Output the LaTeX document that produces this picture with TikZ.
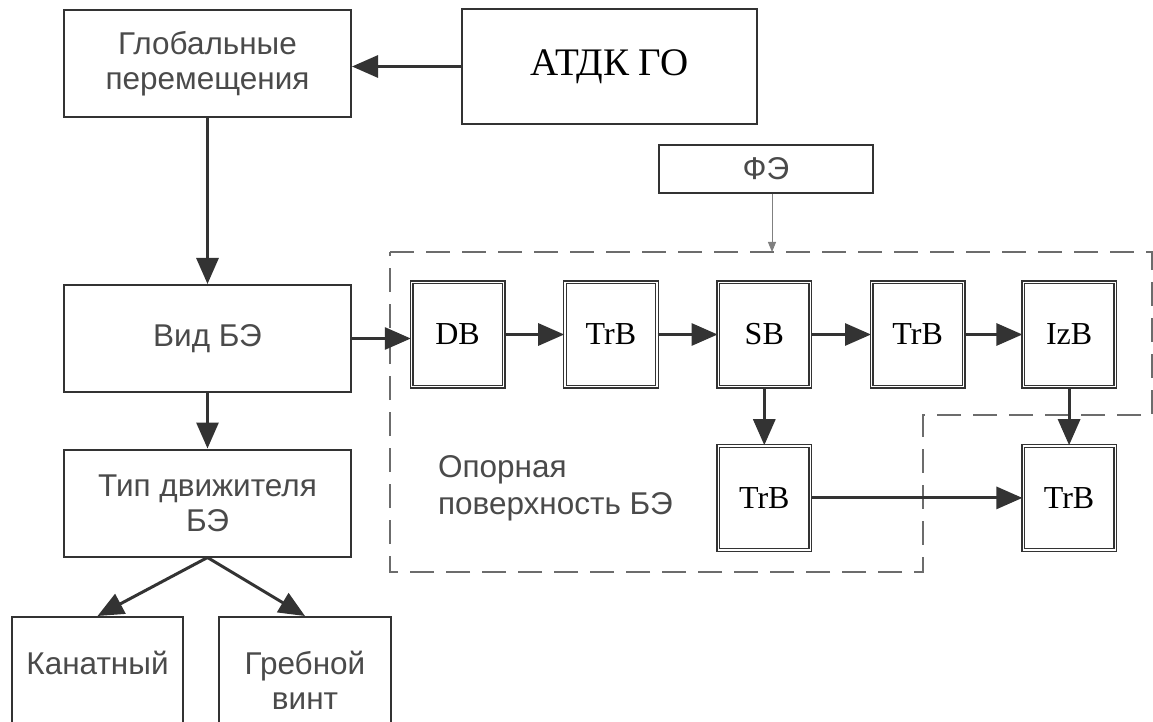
\documentclass[tikz,border=0pt]{standalone}
\usepackage{fontspec}
\setmainfont{Liberation Serif}
\setsansfont{Liberation Sans}
\usetikzlibrary{arrows.meta,positioning}
\definecolor{liniya}{HTML}{333333}
\definecolor{tekst}{HTML}{4A4A4A}
\tikzset{
  blok/.style={draw=liniya,line width=1pt,minimum width=143.5pt,minimum height=53.5pt,inner sep=2pt,
               align=center,text=tekst,font=\sffamily\fontsize{15.75}{17.5}\selectfont},
  kvadrat/.style={draw=liniya,double=white,double distance=0.6pt,line width=0.7pt,inner sep=0pt,
                  minimum width=46pt,minimum height=52pt,font=\fontsize{16}{18}\selectfont},
  strelka/.style={-{Triangle[length=13pt,width=11pt]},line width=1.5pt,draw=liniya},
  tstrelka/.style={-{Triangle[length=5pt,width=4pt]},line width=0.5pt,draw=gray},
  ramka/.style={draw=gray!85!black,line width=1pt,dash pattern=on 12pt off 6pt},
  podpis/.style={align=left,text=tekst,font=\sffamily\fontsize{15.75}{18.5}\selectfont},
}
\begin{document}
\begin{tikzpicture}[x=0.5pt,y=-0.5pt]
  \clip (0,0) rectangle (1153,722);
  % left column
  \node[blok] (glob) at (207.5,63.5) {Глобальные\\перемещения};
  \node[blok,minimum width=147.5pt,minimum height=57.5pt,text=black,font=\fontsize{19.5}{24}\selectfont]
       (atdk) at (609.5,66.5) {АТДК ГО};
  \node[blok] (vid) at (207.5,338.5) {Вид БЭ};
  \node[blok] (tip) at (207.5,503) {Тип движителя\\БЭ};
  \node[blok,minimum width=85.5pt,minimum height=63pt] (kanat) at (97.5,680) {Канатный\\\phantom{винт}};
  \node[blok,minimum width=86pt,minimum height=63pt] (grebnoy) at (305,680) {Гребной\\винт};
  \node[blok,minimum width=107pt,minimum height=24pt,inner sep=0pt] (fe) at (766,169) {ФЭ};
  % support surface
  \draw[ramka] (390,252) -- (1152,252) -- (1152,415) -- (923,415) -- (923,572) -- (390,572) -- cycle;
  \node[podpis,anchor=west] (opora) at (431,488) {Опорная\\поверхность БЭ};
  \node[kvadrat] (db) at (457.5,334.5) {DB};
  \node[kvadrat,right=30pt of db] (trb1) {TrB};
  \node[kvadrat,right=30pt of trb1] (sb) {SB};
  \node[kvadrat,right=30pt of sb] (trb2) {TrB};
  \node[kvadrat,right=29pt of trb2] (izb) {IzB};
  \node[kvadrat,below=29pt of sb] (trb3) {TrB};
  \node[kvadrat,below=29pt of izb] (trb4) {TrB};
  \coordinate (vhod) at (772,252);
  % connectors
  \draw[strelka] (atdk.west) -- (atdk.west -| glob.east);
  \draw[strelka] (glob.south) -- (vid.north);
  \draw[strelka] (vid.south) -- (tip.north);
  \draw[strelka] (tip.south) -- (kanat.north);
  \draw[strelka] (tip.south) -- (grebnoy.north);
  \draw[strelka] (vid.east) -- (vid.east -| db.west);
  \draw[strelka] (db) -- (trb1);
  \draw[strelka] (trb1) -- (sb);
  \draw[strelka] (sb) -- (trb2);
  \draw[strelka] (trb2) -- (izb);
  \draw[strelka] (sb) -- (trb3);
  \draw[strelka] (izb) -- (trb4);
  \draw[strelka] (trb3) -- (trb4);
  \draw[tstrelka] (fe.south -| vhod) -- (vhod);
\end{tikzpicture}
\end{document}
